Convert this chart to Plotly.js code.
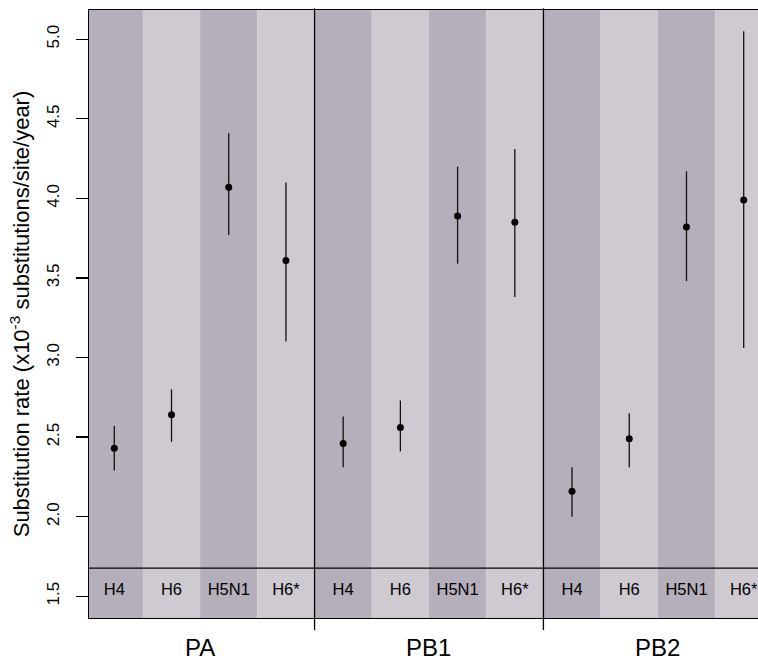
<!DOCTYPE html>
<html>
<head>
<meta charset="utf-8">
<script src="https://cdn.plot.ly/plotly-3.0.1.min.js"></script>
<style>html,body{margin:0;padding:0;background:#fff;}#chart{width:758px;height:662px;}</style>
</head>
<body>
<div id="chart"></div>
<script>
// ---- data ----
const genes = ["PA", "PB1", "PB2"];
const subtypes = ["H4", "H6", "H5N1", "H6*"];
const rateMean  = [2.43, 2.64, 4.07, 3.61,  2.46, 2.56, 3.89, 3.85,  2.16, 2.49, 3.82, 3.99];
const rateLower = [2.29, 2.47, 3.77, 3.10,  2.31, 2.41, 3.59, 3.38,  2.00, 2.31, 3.48, 3.06];
const rateUpper = [2.57, 2.80, 4.41, 4.10,  2.63, 2.73, 4.20, 4.31,  2.31, 2.65, 4.17, 5.05];
const yTicks = [1.5, 2.0, 2.5, 3.0, 3.5, 4.0, 4.5, 5.0];
const yTickText = ["1.5", "2.0", "2.5", "3.0", "3.5", "4.0", "4.5", "5.0"];

// ---- build ----
const xPos = [], stripLabels = [];
genes.forEach((g, gi) => subtypes.forEach((s, si) => {
  xPos.push(gi * subtypes.length + si + 1);
  stripLabels.push(s);
}));
const errPlus = rateMean.map((m, i) => rateUpper[i] - m);
const errMinus = rateMean.map((m, i) => m - rateLower[i]);

const FONT = "Liberation Sans, Arial, Helvetica, sans-serif";
const DARK = "#b5aebb", LIGHT = "#cfcad2";
const STRIP_TOP = 1.676, STRIP_TEXT_Y = 1.535;

const shapes = [];
xPos.forEach((x, i) => {
  shapes.push({type: "rect", xref: "x", yref: "paper", x0: x - 0.5, x1: x + 0.5, y0: 0, y1: 1,
    fillcolor: (i % 2 === 0) ? DARK : LIGHT, line: {width: 0}, layer: "below"});
});
// strip separator line
shapes.push({type: "line", xref: "paper", yref: "y", x0: 0, x1: 1, y0: STRIP_TOP, y1: STRIP_TOP,
  line: {color: "#000", width: 1.3}});
// gene group dividers
for (let gi = 1; gi < genes.length; gi++) {
  const xd = gi * subtypes.length + 0.5;
  shapes.push({type: "line", xref: "x", yref: "paper", x0: xd, x1: xd, y0: -0.0197, y1: 1.003,
    line: {color: "#000", width: 1.3}});
}

const annotations = genes.map((g, gi) => ({
  text: g, xref: "x", yref: "paper", x: gi * subtypes.length + (subtypes.length + 1) / 2,
  y: -0.048, yanchor: "middle", xanchor: "center", showarrow: false,
  font: {family: FONT, size: 24, color: "#000"}
}));

const traces = [
  {
    type: "scatter", mode: "markers", x: xPos, y: rateMean,
    marker: {color: "#000", size: 7},
    error_y: {type: "data", symmetric: false, array: errPlus, arrayminus: errMinus,
      width: 0, thickness: 1.3, color: "#111"},
    hoverinfo: "x+y", showlegend: false
  },
  {
    type: "scatter", mode: "text", x: xPos, y: xPos.map(() => STRIP_TEXT_Y),
    text: stripLabels, textposition: "middle center",
    textfont: {family: FONT, size: 16.5, color: "#000"},
    hoverinfo: "skip", showlegend: false
  }
];

const layout = {
  width: 758, height: 662,
  margin: {l: 89, r: 0, t: 10, b: 44},
  paper_bgcolor: "#fff", plot_bgcolor: "#fff",
  font: {family: FONT, color: "#000"},
  showlegend: false,
  xaxis: {
    range: [0.558, 12.25], showgrid: false, zeroline: false,
    showline: true, mirror: true, linecolor: "#000", linewidth: 1.3,
    showticklabels: false, ticks: "", fixedrange: true
  },
  yaxis: {
    range: [1.363, 5.184], showgrid: false, zeroline: false,
    showline: true, linecolor: "#000", linewidth: 1.3,
    tickvals: yTicks, ticktext: yTickText, ticks: "outside", ticklen: 12,
    tickcolor: "#000", tickwidth: 1.3, tickangle: -90, ticklabelstandoff: 10,
    tickfont: {family: FONT, size: 17, color: "#000"},
    title: {text: "Substitution rate (x10<sup>-3</sup> substitutions/site/year)",
      font: {family: FONT, size: 22, color: "#000"}, standoff: 8},
    fixedrange: true
  },
  shapes: shapes,
  annotations: annotations
};

Plotly.newPlot("chart", traces, layout, {displayModeBar: false, staticPlot: true});
</script>
</body>
</html>
